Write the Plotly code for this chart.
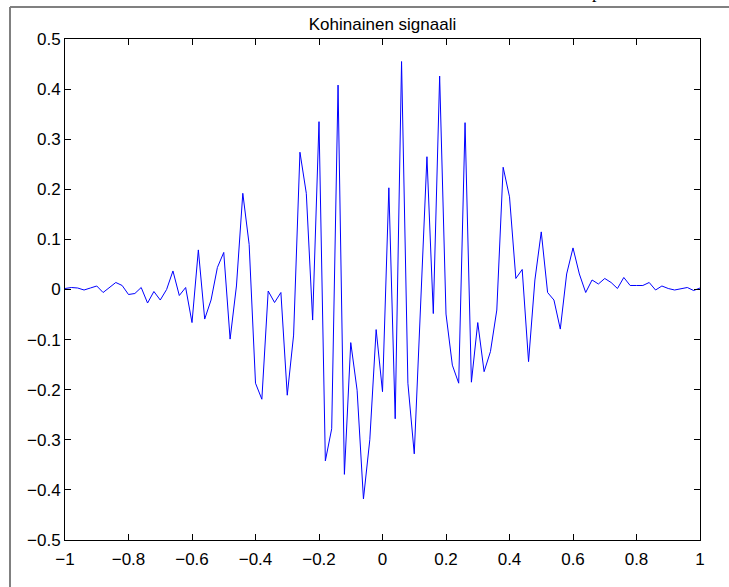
import numpy as np
import plotly.graph_objects as go

# Sample positions (101 samples from -1 to 1)
t = np.linspace(-1, 1, 101)

# Noisy signal values
signal = [
    0.002, 0.004, 0.003, -0.001, 0.003, 0.007, -0.006, 0.004, 0.014, 0.008,
    -0.010, -0.008, 0.004, -0.027, -0.004, -0.021, 0.000, 0.037, -0.012, 0.004,
    -0.066, 0.079, -0.059, -0.021, 0.044, 0.074, -0.099, 0.007, 0.192, 0.090,
    -0.187, -0.219, -0.003, -0.026, -0.006, -0.211, -0.091, 0.274, 0.192, -0.061,
    0.335, -0.342, -0.278, 0.408, -0.369, -0.106, -0.201, -0.418, -0.300, -0.080,
    -0.204, 0.203, -0.258, 0.455, -0.187, -0.328, -0.030, 0.265, -0.048, 0.426,
    -0.049, -0.151, -0.187, 0.333, -0.185, -0.066, -0.164, -0.124, -0.041, 0.244,
    0.185, 0.022, 0.040, -0.144, 0.019, 0.115, -0.006, -0.021, -0.079, 0.031,
    0.083, 0.031, -0.006, 0.019, 0.011, 0.022, 0.014, 0.002, 0.024, 0.008,
    0.008, 0.008, 0.014, -0.001, 0.007, 0.002, -0.001, 0.002, 0.004, -0.002,
    0.003,
]

title_text = "Kohinainen signaali"
x_ticks = [-1, -0.8, -0.6, -0.4, -0.2, 0, 0.2, 0.4, 0.6, 0.8, 1]
y_ticks = [-0.5, -0.4, -0.3, -0.2, -0.1, 0, 0.1, 0.2, 0.3, 0.4, 0.5]

W, H = 729, 587
ML, MR, MT, MB = 65, 29, 39, 47
PW, PH = W - ML - MR, H - MT - MB

def px2paper_x(px):
    return (px - ML) / PW

def px2paper_y(py):
    return 1 + (MT - py) / PH

FONT = "Liberation Sans, Arial, Helvetica, sans-serif"

fig = go.Figure()
fig.add_trace(go.Scatter(
    x=t, y=signal, mode="lines",
    line=dict(color="#0000ff", width=1),
    showlegend=False, hoverinfo="skip",
))

axis_common = dict(
    showline=True, linecolor="black", linewidth=1, mirror="ticks",
    ticks="inside", ticklen=6, tickcolor="black", tickwidth=1,
    showgrid=False, zeroline=False,
    tickfont=dict(family=FONT, size=17, color="black"),
)

fig.update_layout(
    width=W, height=H,
    margin=dict(l=ML, r=MR, t=MT, b=MB),
    paper_bgcolor="white", plot_bgcolor="white",
    title=dict(
        text=title_text, x=px2paper_x(382.5), xref="paper", xanchor="center",
        y=1 - 24 / H, yanchor="middle",
        font=dict(family=FONT, size=17, color="black"),
    ),
    xaxis=dict(range=[-1, 1], tickvals=x_ticks, ticklabelstandoff=4, **axis_common),
    yaxis=dict(range=[-0.5, 0.5], tickvals=y_ticks, **axis_common),
    shapes=[
        dict(type="line", xref="paper", yref="paper",
             x0=px2paper_x(10), x1=px2paper_x(10),
             y0=px2paper_y(7), y1=px2paper_y(H + 5),
             line=dict(color="#808080", width=2)),
        dict(type="line", xref="paper", yref="paper",
             x0=px2paper_x(10), x1=px2paper_x(W + 5),
             y0=px2paper_y(7), y1=px2paper_y(7),
             line=dict(color="#808080", width=2)),
    ],
    annotations=[
        dict(text="p", xref="paper", yref="paper",
             x=px2paper_x(596), y=px2paper_y(4), xanchor="center", yanchor="bottom",
             showarrow=False,
             font=dict(family="Liberation Serif, Times New Roman, serif", size=18, color="black")),
    ],
)

fig.write_html("out.html")
